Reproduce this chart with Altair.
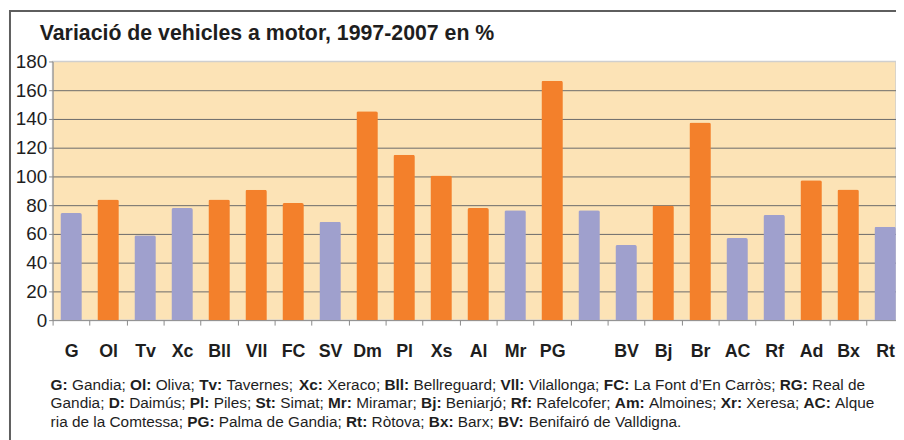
import altair as alt
import pandas as pd

FONT = "Liberation Sans"

categories = ["G", "Ol", "Tv", "Xc", "Bll", "Vll", "FC", "SV", "Dm", "Pl", "Xs", "Al",
              "Mr", "PG", " ", "BV", "Bj", "Br", "AC", "Rf", "Ad", "Bx", "Rt"]
values = [74.5, 84, 59, 78, 84, 90.7, 81.5, 68.4, 145.4, 115, 100.6, 78,
          76.4, 166.6, 76.4, 52.3, 79.7, 137.6, 57.1, 73.2, 97.4, 90.9, 65]
groups = ["p", "o", "p", "p", "o", "o", "o", "p", "o", "o", "o", "o",
          "p", "o", "p", "p", "o", "o", "p", "p", "o", "o", "p"]
y_ticks = [0, 20, 40, 60, 80, 100, 120, 140, 160, 180]

title_text = "Variació de vehicles a motor, 1997-2007 en %"
note_lines = [
    "**G:** Gandia; **Ol:** Oliva; **Tv:** Tavernes; **Xc:** Xeraco; **Bll:** Bellreguard; **Vll:** Vilallonga; **FC:** La Font d\u2019En Carròs; **RG:** Real de",
    "Gandia; **D:** Daimús; **Pl:** Piles; **St:** Simat; **Mr:** Miramar; **Bj:** Beniarjó; **Rf:** Rafelcofer; **Am:** Almoines; **Xr:** Xeresa; **AC:** Alque",
    "ria de la Comtessa; **PG:** Palma de Gandia; **Rt:** Ròtova; **Bx:** Barx; **BV:** Benifairó de Valldigna.",
]

PURPLE = "#9fa0cd"
ORANGE = "#f3802b"
PEACH = "#fce3b6"
TEXT = "#1e1e1e"

# Arial / Liberation Sans advance widths (per 1000 em)
REG = {" ": 278, ";": 278, ":": 278, ".": 278, ",": 278, "\u2019": 222, "-": 333,
       "A": 667, "B": 667, "C": 722, "D": 722, "E": 667, "F": 611, "G": 778, "L": 556,
       "M": 833, "O": 778, "P": 667, "R": 722, "S": 667, "T": 611, "V": 667, "X": 667,
       "a": 556, "b": 556, "c": 500, "d": 556, "e": 556, "f": 278, "g": 556, "h": 556,
       "i": 222, "j": 222, "k": 500, "l": 222, "m": 833, "n": 556, "o": 556, "p": 556,
       "q": 556, "r": 333, "s": 500, "t": 278, "u": 556, "v": 500, "w": 722, "x": 500,
       "y": 500, "z": 500, "à": 556, "ò": 556, "ó": 556, "ú": 556}
BOLD = {" ": 278, ":": 333, ";": 333, "A": 722, "B": 722, "C": 722, "D": 722, "F": 611,
        "G": 778, "M": 833, "O": 778, "P": 667, "R": 722, "S": 667, "T": 611, "V": 667,
        "X": 667, "b": 611, "c": 556, "f": 333, "j": 278, "l": 278, "m": 889, "r": 389,
        "t": 333, "v": 556, "x": 556}

NOTE_SIZE = 15.5
NOTE_X0 = -2
NOTE_Y = [331.5, 350, 368.5]


def width(s, bold):
    tab = BOLD if bold else REG
    return sum(tab.get(c, 556) for c in s) * NOTE_SIZE / 1000.0


rows = []
for li, line in enumerate(note_lines):
    x = NOTE_X0
    parts = line.split("**")
    for k, part in enumerate(parts):
        if not part:
            continue
        bold = (k % 2 == 1)
        stripped = part.lstrip(" ")
        x += width(part[: len(part) - len(stripped)], bold)
        rows.append({"px": x, "py": NOTE_Y[li], "txt": stripped, "bold": bold})
        x += width(stripped, bold)
notes = pd.DataFrame(rows)

df = pd.DataFrame({"cat": categories, "val": values, "grp": groups})

bars = alt.Chart(df).mark_bar(
    cornerRadiusTopLeft=2, cornerRadiusTopRight=2, width=alt.RelativeBandSize(0.58)
).encode(
    x=alt.X("cat:N", sort=categories,
            scale=alt.Scale(range=[0, 858.7], paddingInner=0, paddingOuter=0),
            axis=alt.Axis(title=None, labelAngle=0, labelFont=FONT, labelFontSize=18,
                          labelFontWeight="bold", labelColor=TEXT,
                          labelBaseline="alphabetic", labelPadding=31.5,
                          tickSize=5, tickColor="#8a8a8a", domainColor="#8a8a8a",
                          tickBand="extent", labelOverlap=False, grid=False)),
    y=alt.Y("val:Q", scale=alt.Scale(domain=[0, 180], nice=False),
            axis=alt.Axis(title=None, values=y_ticks, labelFont=FONT, labelFontSize=19,
                          labelColor=TEXT, labelPadding=2, tickSize=4,
                          tickColor="#8a8a8a", domainColor="#8a8a8a",
                          grid=True, gridColor="#6a6a6a", gridWidth=1,
                          gridOpacity=alt.condition("datum.value == 180 || datum.value == 0",
                                                    alt.value(0), alt.value(1)))),
    color=alt.Color("grp:N", scale=alt.Scale(domain=["p", "o"], range=[PURPLE, ORANGE]),
                    legend=None),
)

one = pd.DataFrame({"k": [0]})
frame_top = alt.Chart(one).mark_rule(color="#5e5e5e", strokeWidth=2).encode(
    x=alt.value(-43), x2=alt.value(870), y=alt.value(-51))
frame_left = alt.Chart(one).mark_rule(color="#5e5e5e", strokeWidth=2).encode(
    x=alt.value(-43), y=alt.value(-52), y2=alt.value(400))

title = alt.Chart(pd.DataFrame({"t": [title_text]})).mark_text(
    align="left", baseline="alphabetic", font=FONT, fontSize=21.5, fontWeight="bold",
    color=TEXT).encode(x=alt.value(-13), y=alt.value(-22), text="t:N")

note_reg = alt.Chart(notes).transform_filter("!datum.bold").mark_text(
    align="left", baseline="alphabetic", font=FONT, fontSize=NOTE_SIZE, color=TEXT
).encode(x=alt.X("px:Q", scale=None, axis=None), y=alt.Y("py:Q", scale=None, axis=None),
         text="txt:N")
note_bold = alt.Chart(notes).transform_filter("datum.bold").mark_text(
    align="left", baseline="alphabetic", font=FONT, fontSize=NOTE_SIZE,
    fontWeight="bold", color=TEXT
).encode(x=alt.X("px:Q", scale=None, axis=None), y=alt.Y("py:Q", scale=None, axis=None),
         text="txt:N")

chart = alt.layer(bars, frame_top, frame_left, title, note_reg, note_bold).resolve_scale(
    x="independent", y="independent"
).properties(
    width=851, height=261,
    autosize=alt.AutoSizeParams(type="none"),
    padding={"left": 45, "top": 52, "right": 0, "bottom": 119},
    background="white",
).configure_view(fill=PEACH, stroke="#cfcfcf", strokeWidth=1.5)

chart.save("out.html", embed_options={"renderer": "svg", "actions": False})
